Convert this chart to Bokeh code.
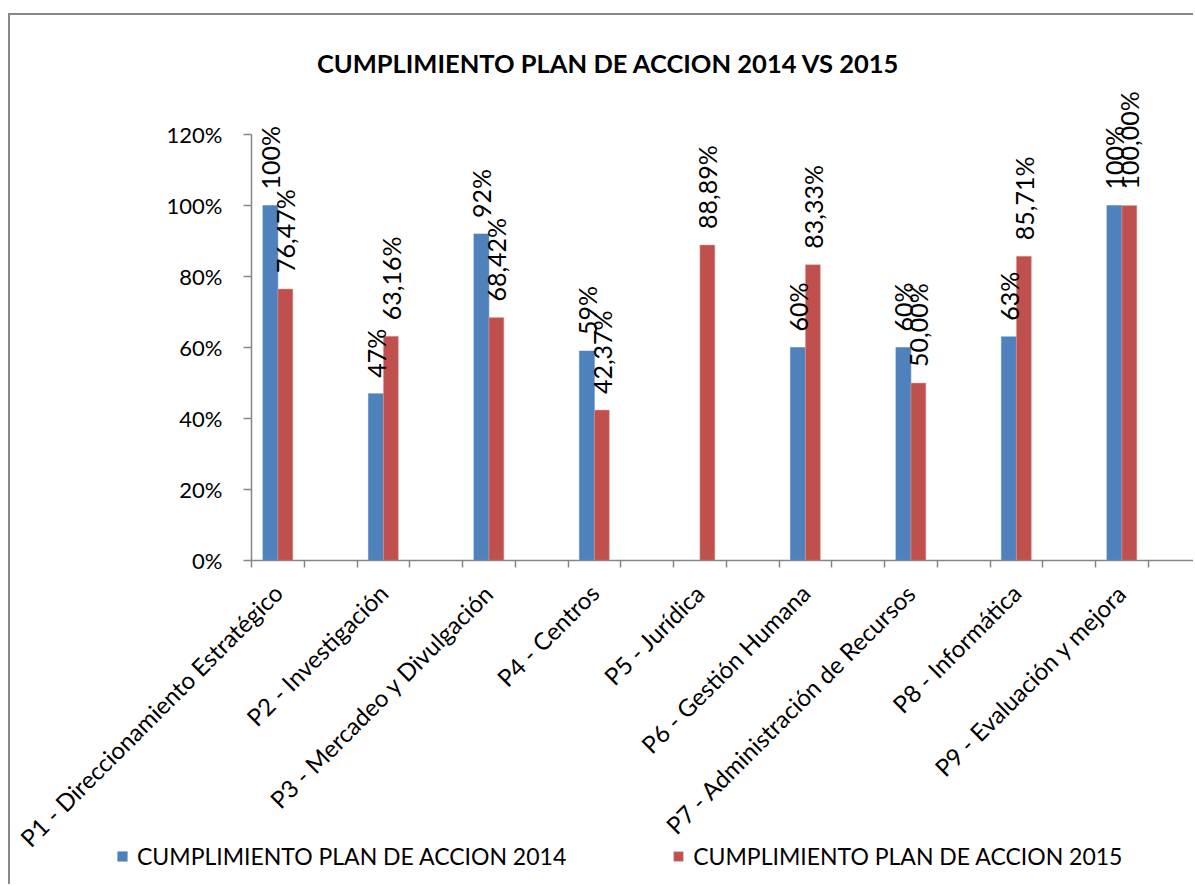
import math
from bokeh.plotting import figure
from bokeh.models import (ColumnDataSource, Range1d, FixedTicker, Legend, LegendItem, Label)
from bokeh.core.properties import value
from bokeh.embed import file_html
from bokeh.resources import INLINE

# ---- data ----
categories = ["P1 - Direccionamiento Estratégico", "P2 - Investigación",
              "P3 - Mercadeo y Divulgación", "P4 - Centros", "P5 - Jurídica",
              "P6 - Gestión Humana", "P7 - Administración de Recursos",
              "P8 - Informática", "P9 - Evaluación y mejora"]
vals_2014 = [100, 47, 92, 59, None, 60, 60, 63, 100]
vals_2015 = [76.47, 63.16, 68.42, 42.37, 88.89, 83.33, 50.00, 85.71, 100.00]
series_names = ["CUMPLIMIENTO PLAN DE ACCION 2014", "CUMPLIMIENTO PLAN DE ACCION 2015"]
y_ticks = [0, 20, 40, 60, 80, 100, 120]
title_text = "CUMPLIMIENTO PLAN DE ACCION 2014 VS 2015"

BLUE = "#4F81BD"
RED = "#C0504D"
GREY = "#868686"
FONT = "Lato"

# category centres: every category occupies two tick slots
centers = [2 * i + 0.5 for i in range(len(categories))]
n_slots = 2 * len(categories)
bw = 0.284

x14 = [c - bw / 2 for c, v in zip(centers, vals_2014) if v is not None]
y14 = [v for v in vals_2014 if v is not None]
t14 = [f"{v:.0f}%" for v in y14]
x15 = [c + bw / 2 for c in centers]
y15 = list(vals_2015)
t15 = [f"{v:.2f}%".replace(".", ",") for v in y15]

src14 = ColumnDataSource(dict(x=x14, top=y14, label=t14))
src15 = ColumnDataSource(dict(x=x15, top=y15, label=t15))

# layout geometry (pixels inside the figure)
W, H = 1185, 871
AX_X, AX_Y = 241, 545          # pixel position of the axes' origin
PX_X = 52.75                   # pixels per tick slot
PX_Y = 426 / 120               # pixels per percent

p = figure(width=W, height=H, output_backend="svg", toolbar_location=None,
           x_range=Range1d(-AX_X / PX_X, (W - AX_X) / PX_X),
           y_range=Range1d(-(H - AX_Y) / PX_Y, AX_Y / PX_Y),
           min_border_left=0, min_border_right=0, min_border_top=0,
           min_border_bottom=0, background_fill_color="white",
           border_fill_color="white", outline_line_color=None)
p.styles = {"border-left": "2px solid #878787", "border-top": "2px solid #878787",
            "margin-top": "13px", "margin-left": "8px"}

r14 = p.vbar(x="x", top="top", width=bw, bottom=0, source=src14,
             fill_color=BLUE, line_color=BLUE, line_width=0.5)
r15 = p.vbar(x="x", top="top", width=bw, bottom=0, source=src15,
             fill_color=RED, line_color="#E0A5A4", line_width=0.5)

for src in (src14, src15):
    p.text(x="x", y="top", text="label", source=src, angle=math.pi / 2,
           text_align="left", text_baseline="middle", y_offset=-16,
           text_font=value(FONT), text_font_size="25px", text_color="black")

p.xgrid.visible = False
p.ygrid.visible = False

# y axis, fixed at x = 0
ya = p.yaxis[0]
ya.fixed_location = 0
ya.bounds = (0, 120)
ya.ticker = FixedTicker(ticks=y_ticks)
ya.major_label_overrides = {t: f"{t}%" for t in y_ticks}
ya.major_label_text_font = FONT
ya.major_label_text_font_size = "22px"
ya.major_label_text_color = "black"
ya.axis_line_color = GREY
ya.axis_line_width = 1.5
ya.major_tick_line_color = GREY
ya.major_tick_line_width = 1.5
ya.major_tick_in = 0
ya.major_tick_out = 8
ya.minor_tick_line_color = None
ya.major_label_standoff = 21

# x axis, fixed at y = 0
xa = p.xaxis[0]
xa.fixed_location = 0
xa.bounds = (0, n_slots)
xa.ticker = FixedTicker(ticks=centers, minor_ticks=list(range(n_slots + 1)))
xa.major_label_overrides = {c: n for c, n in zip(centers, categories)}
xa.major_label_orientation = math.pi / 4
xa.major_label_text_font = FONT
xa.major_label_text_font_size = "24px"
xa.major_label_text_color = "black"
xa.major_tick_line_color = None
xa.major_tick_in = 0
xa.major_tick_out = 0
xa.minor_tick_line_color = GREY
xa.minor_tick_line_width = 1.5
xa.minor_tick_in = 0
xa.minor_tick_out = 7
xa.axis_line_color = GREY
xa.axis_line_width = 1.5
xa.major_label_standoff = 21

title = Label(x=(598 - AX_X) / PX_X, y=(AX_Y - 47) / PX_Y, text=title_text,
              text_align="center", text_baseline="middle", text_font=FONT,
              text_font_style="bold", text_font_size="25.5px", text_color="black")
p.add_layout(title)

legend = Legend(items=[LegendItem(label=series_names[0], renderers=[r14]),
                       LegendItem(label=series_names[1], renderers=[r15])],
                orientation="horizontal", location=(106, 16),
                glyph_width=12, glyph_height=12, label_standoff=9, spacing=106,
                padding=0, margin=0, border_line_color=None,
                background_fill_alpha=0, label_text_font=FONT,
                label_text_font_size="23px", label_text_color="black")
p.add_layout(legend, "center")

open("out.html", "w").write(file_html(p, INLINE))
